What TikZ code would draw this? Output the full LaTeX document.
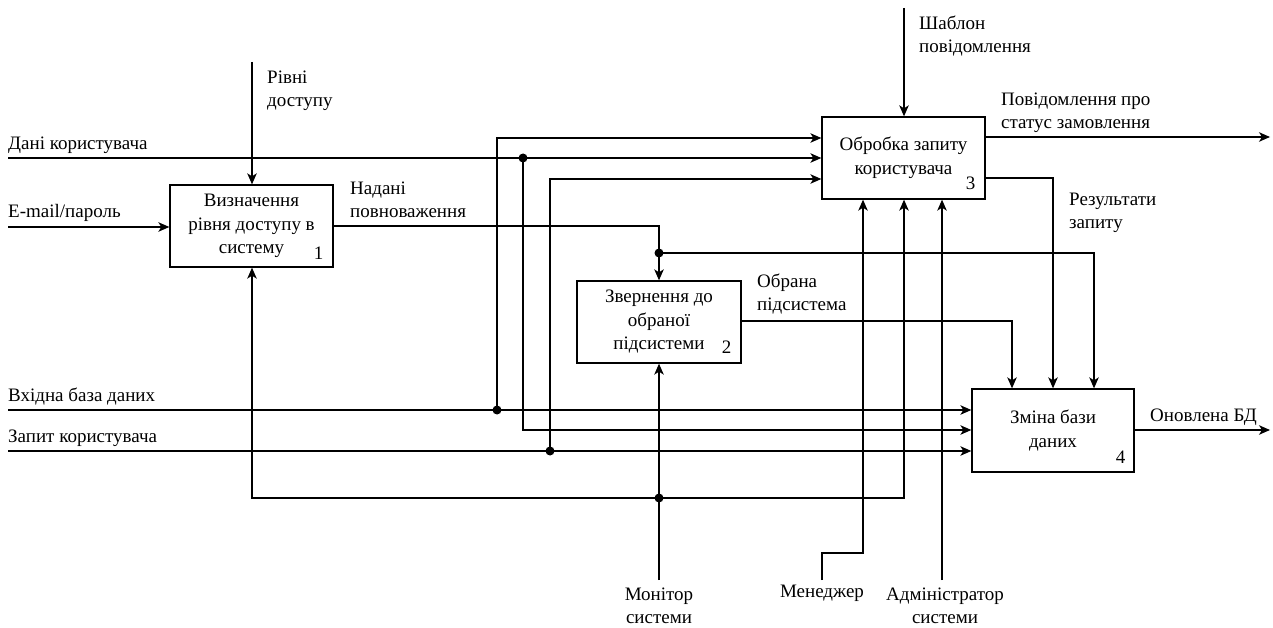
\documentclass[tikz,border=0pt]{standalone}
\usepackage{fontspec}
\setmainfont{Liberation Serif}
\usetikzlibrary{arrows.meta,calc}
\begin{document}
\begin{tikzpicture}[x=1pt,y=-1pt,
  every node/.style={font=\fontsize{19}{23.5}\selectfont, inner sep=0pt},
  fbox/.style={draw, line width=1.3pt, rectangle, align=center, minimum width=163pt, minimum height=82pt},
  num/.style={anchor=center},
  lbl/.style={anchor=west, align=left},
  clbl/.style={anchor=center, align=center},
  arr/.style={line width=1.3pt, -{Stealth[length=11pt,width=9.5pt,inset=3pt]}},
  ln/.style={line width=1.3pt},
  dotc/.style={fill=black}]
\useasboundingbox (0,0) rectangle (1273,628);
% boxes
\node[fbox] (b1) at (251.5,226) {Визначення\\рівня доступу в\\систему};
\node[fbox, minimum width=164pt] (b2) at (659,322) {Звернення до\\обраної\\підсистеми};
\node[fbox] (b3) at (903.5,158) {Обробка запиту\\користувача};
\node[fbox, minimum width=162pt, minimum height=83pt] (b4) at (1053,430.5) {Зміна бази\\даних};
\node[num] (n1) at ($(b1.south east)+(-15,-14)$) {1};
\node[num] (n2) at ($(b2.south east)+(-15,-16)$) {2};
\node[num] (n3) at ($(b3.south east)+(-15,-16)$) {3};
\node[num] (n4) at ($(b4.south east)+(-14,-15)$) {4};
% coordinates
\coordinate (dkL) at (8,158);
\coordinate (dkJ) at (523,158);
\coordinate (dkC) at (523,430);
\coordinate (vbL) at (8,410);
\coordinate (vbJ) at (497,410);
\coordinate (vbC) at (497,138);
\coordinate (zkL) at (8,451);
\coordinate (zkJ) at (550,451);
\coordinate (zkC) at (550,179);
\coordinate (emL) at (8,227);
\coordinate (rdT) at (252,62);
\coordinate (shT) at (904,8);
\coordinate (npC) at (659,226);
\coordinate (npJ) at (659,253);
\coordinate (npR) at (1094,253);
\coordinate (opC) at (1012,321);
\coordinate (pzE) at (1270,137);
\coordinate (rzC) at (1053,178);
\coordinate (obE) at (1270,430);
\coordinate (msB) at (659,580);
\coordinate (msJ) at (659,498);
\coordinate (mL) at (252,498);
\coordinate (mR) at (904,498);
\coordinate (mnB) at (822,580);
\coordinate (mnC1) at (822,553);
\coordinate (mnC2) at (863,553);
\coordinate (adB) at (942,580);
% connectors
\draw[arr] (dkL) -- (dkJ) -- (b3.west |- dkJ);
\draw[arr] (dkJ) -- (dkC) -- (b4.west |- dkC);
\draw[arr] (vbL) -- (vbJ) -- (b4.west |- vbJ);
\draw[arr] (vbJ) -- (vbC) -- (b3.west |- vbC);
\draw[arr] (zkL) -- (zkJ) -- (b4.west |- zkJ);
\draw[arr] (zkJ) -- (zkC) -- (b3.west |- zkC);
\draw[arr] (emL) -- (b1.west |- emL);
\draw[arr] (rdT) -- (rdT |- b1.north);
\draw[arr] (shT) -- (shT |- b3.north);
\draw[arr] (b1.east |- npC) -- (npC) -- (b2.north);
\draw[arr] (npJ) -- (npR) -- (npR |- b4.north);
\draw[arr] (b2.east |- opC) -- (opC) -- (opC |- b4.north);
\draw[arr] (b3.east |- pzE) -- (pzE);
\draw[arr] (b3.east |- rzC) -- (rzC) -- (rzC |- b4.north);
\draw[arr] (b4.east |- obE) -- (obE);
\draw[arr] (msB) -- (msB |- b2.south);
\draw[arr] (msJ) -- (mL) -- (mL |- b1.south);
\draw[arr] (msJ) -- (mR) -- (mR |- b3.south);
\draw[arr] (mnB) -- (mnC1) -- (mnC2) -- (mnC2 |- b3.south);
\draw[arr] (adB) -- (adB |- b3.south);
% dots
\foreach \p in {dkJ,vbJ,zkJ,npJ,msJ} \fill[dotc] (\p) circle (4.5);
% labels
\node[lbl] (dkT) at (8,145) {Дані користувача};
\node[lbl] (emT) at (8,213) {E-mail/пароль};
\node[lbl] (rdL) at (267,91) {Рівні\\доступу};
\node[lbl] (npL) at (350,200) {Надані\\повноваження};
\node[lbl] (opL) at (757,294) {Обрана\\підсистема};
\node[lbl] (shL) at (919,36) {Шаблон\\повідомлення};
\node[lbl] (pzL) at (1001,113) {Повідомлення про\\статус замовлення};
\node[lbl] (rzL) at (1069,213) {Результати\\запиту};
\node[lbl] (vbT) at (8,397) {Вхідна база даних};
\node[lbl] (zkT) at (8,438) {Запит користувача};
\node[lbl] (obL) at (1150,417) {Оновлена БД};
\node[clbl] (msL) at (659,606) {Монітор\\системи};
\node[clbl] (mnL) at (822,593) {Менеджер};
\node[clbl] (adL) at (945,606) {Адміністратор\\системи};
\end{tikzpicture}
\end{document}
